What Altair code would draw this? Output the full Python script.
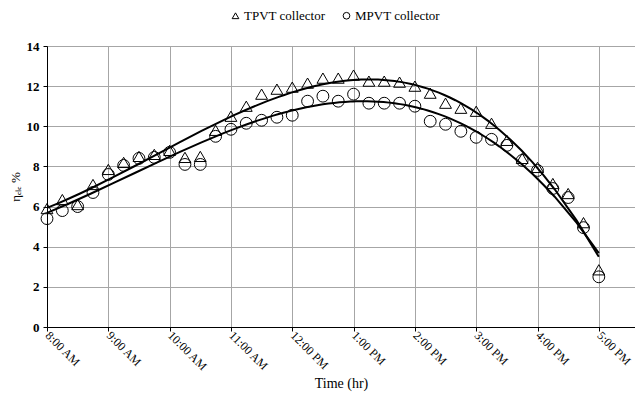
import altair as alt
import pandas as pd

hours = [8 + i * 0.25 for i in range(37)]
tpvt = [5.9, 6.35, 6.1, 7.1, 7.85, 8.2, 8.5, 8.6, 8.8, 8.45, 8.5, 9.8, 10.5, 11.0, 11.6, 11.85,
        11.95, 12.15, 12.4, 12.4, 12.55, 12.25, 12.25, 12.2, 12.0, 11.65, 11.15, 10.9, 10.75,
        10.15, 9.3, 8.4, 7.95, 7.15, 6.65, 5.2, 2.85]
mpvt = [5.4, 5.8, 6.0, 6.7, 7.6, 8.05, 8.4, 8.45, 8.7, 8.1, 8.1, 9.5, 9.85, 10.15, 10.3, 10.45,
        10.55, 11.25, 11.5, 11.25, 11.6, 11.15, 11.15, 11.15, 11.0, 10.25, 10.1, 9.75, 9.45,
        9.35, 9.05, 8.3, 7.8, 6.9, 6.45, 4.95, 2.5]
series_names = ["TPVT collector", "MPVT collector"]
tick_hours = [8, 9, 10, 11, 12, 13, 14, 15, 16, 17]
y_ticks = [0, 2, 4, 6, 8, 10, 12, 14]

rows = []
for name, vals in zip(series_names, [tpvt, mpvt]):
    for t, v in zip(hours, vals):
        rows.append({"t": t, "eff": v, "series": name})
df = pd.DataFrame(rows)

FONT = "Liberation Serif"

x_enc = alt.X(
    "t:Q",
    scale=alt.Scale(domain=[8, 17.59], nice=False, zero=False),
    axis=alt.Axis(
        values=tick_hours,
        labelExpr="datum.value == 12 ? '12:00 PM' : (datum.value < 12 ? datum.value + ':00 AM' : (datum.value - 12) + ':00 PM')",
        labelAngle=45, labelAlign="left", labelBaseline="middle",
        labelFont=FONT, labelFontSize=12, labelColor="black", labelPadding=2,
        title="Time (hr)", titleFont=FONT, titleFontSize=14, titleFontWeight="normal",
        titleColor="black", titlePadding=4,
        domainColor="black", tickColor="black", tickSize=4,
        grid=True, gridColor="#a6a6a6", gridWidth=1,
    ),
)
y_enc = alt.Y(
    "eff:Q",
    scale=alt.Scale(domain=[0, 14], nice=False),
    axis=alt.Axis(
        values=y_ticks,
        labelFont=FONT, labelFontSize=13, labelFontWeight="bold", labelColor="black", labelPadding=4,
        title="η\u2091\u2097\u2091 %", titleFont=FONT, titleFontSize=13, titleFontWeight="normal",
        titleColor="black", titlePadding=4,
        domainColor="black", tickColor="black", tickSize=4,
        grid=True, gridColor="#a6a6a6", gridWidth=1,
    ),
)

points = alt.Chart(df).mark_point(filled=False, stroke="black", strokeWidth=1, size=140, opacity=1).encode(
    x=x_enc,
    y=y_enc,
    shape=alt.Shape(
        "series:N",
        scale=alt.Scale(domain=series_names, range=["triangle-up", "circle"]),
        legend=alt.Legend(
            title=None, orient="none", direction="horizontal", legendX=182, legendY=-37,
            labelFont=FONT, labelFontSize=13, labelColor="black",
            symbolStrokeColor="black", symbolFillColor="transparent", symbolSize=45,
            symbolStrokeWidth=1, columnPadding=14, symbolOffset=0, labelOffset=2,
        ),
    ),
)

lines = alt.Chart(df).transform_regression(
    "t", "eff", groupby=["series"], method="poly", order=3
).mark_line(color="black", strokeWidth=2).encode(
    x=alt.X("t:Q"), y=alt.Y("eff:Q"), detail="series:N"
)

chart = alt.layer(points, lines).properties(
    width=588, height=281,
    autosize=alt.AutoSizeParams(type="none"),
    padding={"left": 39, "top": 38, "right": 0, "bottom": 69},
).configure_view(stroke=None).configure(background="white")

chart.save("out.html", embed_options={"renderer": "svg", "actions": False})
